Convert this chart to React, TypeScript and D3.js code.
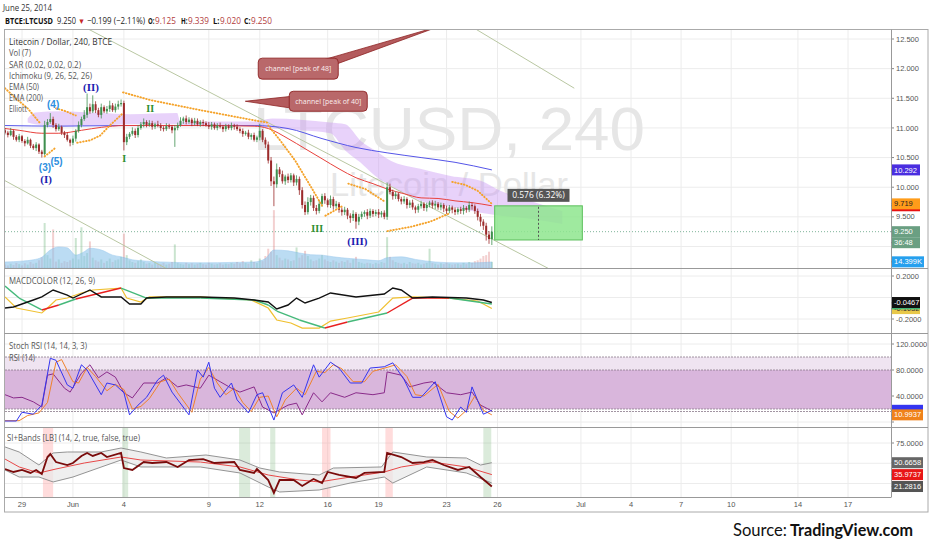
import React from 'react';
import * as d3 from 'd3';

// ---- data (4h bars from May 28 00:00) ----
const firstOpen = 10.96;
const closes = [
  10.92, 10.88, 10.95, 10.85, 10.8, 10.86, 10.78, 10.74, 10.8, 10.7,
  10.66, 10.72, 10.6, 10.56, 11.05, 11.1, 11.15, 11.05, 10.98, 11.02,
  10.92, 10.88, 10.8, 10.75, 10.82, 10.95, 11.05, 11.15, 11.22, 11.35,
  11.28, 11.4, 11.3, 11.22, 11.35, 11.28, 11.32, 11.38, 11.3, 11.36,
  11.4, 11.42, 10.76, 10.85, 10.9, 10.95, 10.88, 11.0, 11.06, 11.1,
  11.05, 11.08, 11.02, 11.06, 11.04, 11.0, 10.98, 11.03, 11.02, 10.96,
  11.0, 11.05, 11.12, 11.16, 11.1, 11.14, 11.08, 11.12, 11.06, 11.1,
  11.08, 11.05, 11.02, 11.06, 11.0, 11.04, 11.02, 10.98, 11.03, 11.0,
  11.04, 11.02, 10.98, 10.95, 10.9, 10.92, 10.85, 10.88, 10.8, 10.84,
  10.95, 10.8, 10.72, 10.45, 10.1, 10.05, 10.3, 10.22, 10.1, 10.18,
  10.12, 10.2, 10.08, 10.14, 9.95, 9.7, 9.58, 9.75, 9.82, 9.65,
  9.6, 9.72, 9.85, 9.78, 9.7, 9.8, 9.68, 9.72, 9.62, 9.58,
  9.62, 9.52, 9.48, 9.55, 9.42, 9.5, 9.55, 9.58, 9.52, 9.6,
  9.55, 9.58, 9.54, 9.57, 9.5, 10.0, 9.92, 9.85, 9.88, 9.8,
  9.76, 9.8, 9.7, 9.74, 9.66, 9.62, 9.68, 9.72, 9.65, 9.7,
  9.74, 9.69, 9.72, 9.66, 9.7, 9.64, 9.6, 9.66, 9.62, 9.58,
  9.63, 9.6, 9.65, 9.62, 9.7, 9.68, 9.6, 9.5, 9.42, 9.35,
  9.2, 9.125, 9.25,
];
// wick lengths above / below the body, in cents
const wickUp = [
  4, 3, 5, 2, 3, 4, 2, 3, 5, 2, 3, 4, 2, 3, 7, 5, 10, 4, 3, 5,
  2, 3, 4, 2, 5, 3, 6, 4, 8, 23, 6, 15, 5, 4, 6, 3, 5, 8, 4, 5,
  6, 6, 4, 5, 3, 6, 4, 5, 4, 6, 3, 5, 4, 3, 6, 4, 3, 5, 4, 3,
  5, 4, 6, 3, 5, 4, 3, 5, 4, 3, 4, 3, 5, 4, 3, 4, 5, 3, 4, 3,
  5, 3, 4, 3, 4, 3, 5, 3, 4, 3, 12, 3, 4, 5, 6, 8, 10, 4, 6, 3,
  5, 4, 3, 6, 4, 5, 6, 8, 5, 4, 5, 6, 4, 5, 3, 6, 4, 5, 3, 4,
  5, 3, 4, 6, 3, 5, 4, 3, 5, 4, 3, 4, 5, 3, 4, 8, 6, 4, 5, 3,
  4, 5, 3, 4, 5, 3, 4, 5, 3, 4, 3, 4, 5, 3, 4, 3, 5, 4, 3, 4,
  3, 4, 5, 3, 6, 4, 3, 4, 5, 4, 5, 6, 9,
];
const wickDn = [
  3, 4, 2, 5, 3, 4, 3, 5, 2, 4, 3, 5, 4, 6, 3, 4, 3, 5, 4, 3,
  4, 5, 3, 6, 4, 5, 3, 4, 3, 5, 4, 3, 5, 4, 6, 3, 4, 5, 3, 4,
  5, 4, 14, 5, 4, 3, 5, 4, 3, 5, 4, 3, 5, 4, 3, 5, 4, 3, 4, 5,
  28, 4, 3, 5, 4, 3, 5, 4, 3, 4, 5, 3, 4, 5, 3, 4, 3, 5, 4, 3,
  4, 5, 3, 4, 5, 3, 4, 5, 3, 4, 5, 4, 6, 5, 8, 37, 6, 5, 4, 6,
  5, 4, 6, 5, 8, 6, 5, 4, 6, 5, 6, 4, 5, 6, 4, 5, 6, 4, 5, 6,
  5, 6, 8, 5, 12, 6, 4, 5, 6, 4, 5, 4, 6, 5, 4, 5, 4, 6, 5, 4,
  5, 4, 6, 5, 4, 6, 5, 4, 5, 6, 4, 5, 6, 4, 5, 6, 5, 4, 6, 5,
  4, 5, 6, 5, 4, 6, 5, 6, 8, 7, 10, 8, 10,
];
// volume in thousands
const volumes = [
  8, 6, 10, 7, 12, 9, 6, 11, 8, 14, 10, 12, 18, 25, 105, 30, 22, 90, 15, 20,
  12, 16, 14, 18, 22, 70, 20, 95, 28, 35, 62, 24, 18, 15, 20, 12, 16, 22, 14, 18,
  20, 26, 80, 30, 18, 14, 12, 16, 20, 14, 10, 12, 8, 14, 10, 9, 12, 8, 10, 14,
  55, 12, 10, 8, 12, 9, 11, 8, 10, 12, 9, 8, 12, 10, 8, 9, 11, 8, 10, 9,
  12, 10, 14, 11, 16, 12, 10, 18, 14, 12, 22, 16, 28, 45, 38, 135, 30, 24, 18, 22,
  20, 16, 18, 48, 24, 30, 40, 28, 20, 16, 18, 22, 30, 20, 16, 14, 18, 15, 12, 16,
  14, 18, 12, 20, 26, 14, 12, 10, 12, 11, 9, 12, 10, 14, 12, 72, 26, 18, 14, 12,
  10, 12, 9, 14, 11, 10, 12, 8, 10, 12, 45, 12, 10, 8, 11, 9, 12, 10, 8, 9,
  10, 8, 12, 9, 14, 12, 16, 18, 22, 28, 30, 38, 14.399,
];
const volMA = [
  [0, 14], [6, 16], [10, 19], [13, 25], [16, 42], [19, 49], [22, 47], [25, 30], [28, 38], [30, 46],
  [34, 42], [38, 30], [41, 26], [45, 19], [50, 16], [60, 13], [70, 12], [80, 13], [88, 14], [92, 22],
  [95, 42], [100, 40], [104, 35], [108, 31], [112, 30], [116, 26], [122, 22], [128, 19], [132, 17], [135, 24],
  [140, 26], [145, 20], [152, 14], [160, 12], [166, 12], [172, 14],
];
const ema50 = [
  [0, 10.99], [5, 10.96], [13, 10.91], [19, 10.91], [27, 10.96], [34, 11.01], [42, 11.04], [69, 11.04],
  [88, 11.03], [93, 10.99], [100, 10.82], [106, 10.65], [112, 10.48], [118, 10.31], [124, 10.16],
  [130, 10.06], [135, 9.97], [141, 9.89], [147, 9.82], [153, 9.81], [159, 9.77], [165, 9.74], [172, 9.687],
];
const ema200 = [
  [0, 11.04], [19, 11.03], [41, 11.04], [69, 11.04], [88, 11.04], [100, 10.99], [112, 10.82],
  [124, 10.67], [135, 10.58], [147, 10.5], [159, 10.42], [172, 10.292],
];
const cloudIdx = [8, 10.6, 19.4, 33.6, 44.2, 60.8, 61.9, 87.7, 94.4, 104.3, 114.9, 120.2, 125.5, 130.8, 136.1, 146.7, 157.4, 168, 175, 185.6, 197.3];
const cloudTop = [11.16, 11.26, 11.28, 11.25, 11.23, 11.25, 11.11, 11.11, 11.16, 11.14, 11.09, 11.06, 10.79, 10.62, 10.45, 10.31, 10.19, 10.11, 9.94, 9.77, 9.6];
const cloudBot = [11.09, 11.06, 11.03, 11.04, 11.06, 11.06, 11.04, 11.03, 10.99, 10.96, 10.91, 10.62, 10.42, 10.19, 10.03, 9.77, 9.67, 9.57, 9.52, 9.47, 9.38];
const sarSegments = [
  [[0, 11.67], [3.5, 11.51], [8, 11.33], [12.4, 11.08]],
  [[14, 10.52], [18, 10.67]],
  [[18, 11.33], [21, 11.29], [25, 11.21]],
  [[25.5, 10.75], [30, 10.79], [33.6, 10.87], [37, 11.04], [41.7, 11.25]],
  [[41.7, 11.6], [51.3, 11.47], [69, 11.3], [86.7, 11.14], [92.6, 11.09]],
  [[93, 11.04], [97.2, 10.79], [102.5, 10.45], [107.8, 10.03], [112, 9.69]],
  [[113.2, 9.52], [119.5, 9.69]],
  [[121.3, 10.06], [127.3, 9.97], [134.4, 9.75]],
  [[135.1, 9.26], [143.2, 9.33], [150.3, 9.42], [156.6, 9.55]],
  [[158, 10.09], [162.6, 10.04], [167, 9.94], [172, 9.719]],
];
const trendLines = [
  [[29.3, 12.67], [192.7, 8.62]],
  [[0, 10.11], [57.3, 8.62]],
  [[166.2, 12.67], [201.6, 11.67]],
];
const elliott = [
  { text: '(3)', i: 14.1, p: 10.33, kind: 'minor' },
  { text: '(5)', i: 18.2, p: 10.43, kind: 'minor' },
  { text: '(I)', i: 14.5, p: 10.14, kind: 'major' },
  { text: '(4)', i: 17, p: 11.4, kind: 'minor' },
  { text: '(II)', i: 30.4, p: 11.69, kind: 'major' },
  { text: 'II', i: 51.3, p: 11.33, kind: 'wave' },
  { text: 'I', i: 42.1, p: 10.48, kind: 'wave' },
  { text: 'III', i: 110.3, p: 9.3, kind: 'wave' },
  { text: '(III)', i: 124.5, p: 9.09, kind: 'major' },
];
const callouts = [
  { text: 'channel [peak of 48]', i: 103.6, p: 12.0, w: 80, h: 21, ti: 153.8, tp: 12.72, base: [[24, -8.5], [38, -4.5]] },
  { text: 'channel [peak of 40]', i: 114.2, p: 11.45, w: 78, h: 20, ti: 84.9, tp: 11.45, base: [[-36, -5], [-36, 7]] },
];
const measure = { i0: 173, i1: 204.5, lo: 9.11, hi: 9.686, label: '0.576 (6.32%)' };

// MACDCOLOR
const macdBlack = [
  [0, -0.098], [3, -0.088], [10, -0.023], [13, 0.005], [17, 0.07], [22, 0.023], [24, -0.005], [30, 0.07],
  [34, 0.005], [41, 0.005], [44, -0.06], [48, -0.06], [50, -0.005], [57, 0.005], [69, 0.005], [81, -0.005],
  [88, -0.023], [93, -0.042], [96, -0.107], [100, -0.07], [103, -0.005], [106, -0.051], [111, -0.005],
  [115, 0.042], [124, 0.005], [134, 0.033], [137, 0.088], [140, 0.07], [144, -0.005], [151, 0.005],
  [163, -0.005], [169, -0.023], [172, -0.0467],
];
const macdSignal = [
  [0, 0.107, 'g'], [5, -0.005, 'g'], [13, -0.116, 'g'], [19, -0.07, 'r'], [25, -0.014, 'g'], [41, 0.088, 'r'],
  [50, -0.005, 'g'], [69, -0.005, 'g'], [88, -0.023, 'g'], [93, -0.07, 'g'], [96, -0.126, 'g'], [104, -0.209, 'g'],
  [113, -0.284, 'g'], [121, -0.228, 'r'], [135, -0.144, 'g'], [144, -0.005, 'r'], [157, -0.005, 'r'], [172, -0.06, 'g'],
];
const macdYellow = [
  [0, 0.005], [4, -0.098], [13, -0.144], [15, -0.098], [18, -0.023], [22, -0.005], [27, 0.042], [31, 0.07],
  [41, 0.088], [43, -0.005], [48, -0.042], [51, 0.005], [69, 0.005], [87, -0.023], [93, -0.098], [96, -0.209],
  [101, -0.237], [105, -0.284], [111, -0.284], [115, -0.219], [121, -0.191], [132, -0.135], [137, -0.005],
  [144, 0.005], [157, -0.005], [167, -0.033], [172, -0.1032],
];

// Stoch RSI / RSI
const stochK = [
  [0, 1.5], [4, 1.5], [6, 15], [10, 12], [13, 26], [16, 98], [18, 95], [22, 57], [24, 52], [27, 88], [29, 80],
  [34, 42], [36, 60], [39, 57], [42, 45], [44, 11], [47, 26], [50, 38], [54, 65], [56, 72], [59, 46], [65, 11],
  [68, 80], [70, 69], [72, 92], [74, 52], [76, 38], [80, 60], [82, 34], [86, 14], [89, 42], [91, 45], [95, 3],
  [98, 45], [102, 57], [105, 38], [109, 88], [111, 69], [115, 92], [118, 83], [122, 60], [126, 60], [129, 83],
  [134, 85], [137, 91], [141, 65], [144, 38], [147, 38], [152, 62], [156, 8], [158, 3], [161, 23], [163, 15],
  [165, 54], [169, 12], [172, 18],
];
const stochD = [
  [0, 2], [5, 2], [8, 10], [12, 14], [15, 30], [18, 92], [20, 96], [24, 62], [26, 60], [29, 84], [32, 70],
  [36, 48], [39, 58], [42, 50], [45, 20], [48, 24], [51, 36], [55, 62], [58, 66], [61, 45], [66, 15], [69, 66],
  [72, 84], [75, 60], [78, 42], [81, 52], [84, 30], [87, 16], [90, 38], [93, 40], [96, 8], [99, 34], [103, 52],
  [106, 42], [110, 78], [113, 76], [116, 88], [119, 82], [123, 62], [127, 62], [130, 78], [135, 84], [138, 88],
  [142, 70], [145, 42], [148, 40], [153, 58], [157, 16], [160, 6], [163, 18], [166, 40], [169, 18], [172, 10.9937],
];
const rsi14 = [
  [0, 42], [3, 37], [6, 38], [10, 31], [13, 23], [15, 72], [17, 74], [21, 52], [23, 46], [27, 75], [30, 88],
  [33, 68], [36, 77], [39, 69], [42, 45], [45, 37], [49, 60], [54, 60], [57, 68], [61, 54], [64, 57], [69, 52],
  [72, 72], [76, 62], [80, 52], [83, 46], [88, 54], [91, 23], [95, 14], [100, 26], [103, 29], [105, 11],
  [109, 45], [112, 31], [115, 45], [120, 38], [124, 45], [130, 42], [134, 45], [135, 77], [140, 72], [143, 54],
  [148, 60], [151, 62], [156, 45], [161, 42], [165, 46], [168, 26], [172, 17],
];
const rsiBands = [100, 80, 20];

// SI+Bands
const siLine = [
  [0, 42.9], [3, 39.2], [6, 41.7], [9, 38], [11, 41.7], [13, 36.7], [15, 57.7], [16, 61.4], [18, 51.5],
  [22, 47.8], [24, 50.3], [27, 59], [29, 62.7], [31, 59], [34, 62.7], [36, 57.7], [41, 62.7], [42, 44.1],
  [45, 41.7], [49, 51.5], [52, 50.3], [57, 51.5], [61, 45.4], [65, 54], [70, 55.2], [74, 50.3], [81, 51.5],
  [83, 41.7], [88, 38], [89, 42.9], [93, 29.3], [95, 13.3], [97, 29.3], [102, 29.3], [105, 21.9], [109, 30.6],
  [112, 25.6], [114, 39.2], [118, 35.5], [124, 31.8], [127, 38], [134, 39.2], [135, 62.7], [140, 57.7],
  [144, 50.3], [148, 51.5], [151, 54], [155, 47.8], [160, 41.7], [164, 45.4], [168, 33], [172, 21.2816],
];
const siMA = [
  [0, 55.2], [5, 45.4], [12, 38], [18, 42.9], [28, 50.3], [41, 57.7], [48, 54], [69, 51.5], [83, 45.4],
  [93, 35.5], [104, 29.3], [111, 26.9], [122, 33], [134, 39.2], [140, 45.4], [151, 51.5], [163, 45.4], [172, 35.9737],
];
const siUpper = [
  [0, 70.1], [5, 63.9], [12, 47.8], [17, 62.7], [22, 63.9], [34, 63.9], [41, 68.8], [48, 63.9], [57, 56.5],
  [71, 60.2], [83, 54], [90, 44.1], [97, 39.2], [111, 35.5], [116, 44.1], [133, 45.4], [137, 63.9], [149, 57.7],
  [163, 56.5], [168, 47.8], [172, 50.6658],
];
const siLower = [
  [0, 41.7], [5, 33], [12, 33], [17, 26.9], [24, 33], [41, 54], [48, 45.4], [69, 45.4], [83, 38], [93, 20.7],
  [97, 14.5], [111, 17], [122, 25.6], [134, 33], [137, 25.6], [149, 45.4], [163, 38], [172, 25.6],
];
const siMarks = [
  [13.4, 17, 'dn'], [41.4, 43.5, 'up'], [82.7, 86.6, 'up'], [93.7, 95.5, 'up'],
  [112, 115, 'dn'], [134.4, 137, 'dn'], [169, 171.8, 'up'],
];

// axes
const priceTicks = [9, 9.5, 10, 10.5, 11, 11.5, 12, 12.5];
const macdTicks = [-0.2, 0, 0.2];
const rsiTicks = [0, 40, 80, 120];
const siTicks = [25, 50, 75];
const tickDates = ['2014-05-29', '2014-06-01', '2014-06-04', '2014-06-09', '2014-06-12', '2014-06-16', '2014-06-19',
  '2014-06-23', '2014-06-26', '2014-07-01', '2014-07-04', '2014-07-07', '2014-07-10', '2014-07-14', '2014-07-17'];
const tickLabels = ['29', 'Jun', '4', '9', '12', '16', '19', '23', '26', 'Jul', '4', '7', '10', '14', '17'];

// ---- layout ----
const L = 5, R = 891;
const P = { main: [29, 268], macd: [269, 333], rsi: [334, 427], si: [428, 497] };
const SANS = 'Liberation Sans, Arial, sans-serif';
const UI = 'Open Sans, sans-serif';

const parse = d3.timeParse('%Y-%m-%d');
const x = d3.scaleTime()
  .domain([parse('2014-05-29'), parse('2014-06-26'), parse('2014-07-17')])
  .range([22, 497.5, 848]);
const BAR0 = parse('2014-05-28').getTime();
const bx = (i) => x(new Date(BAR0 + i * 4 * 3600 * 1000));

const yP = d3.scaleLinear().domain([9, 12.5]).range([246.5, 39]);
const yV = d3.scaleLinear().domain([0, 140]).range([268, 208]);
const yM = d3.scaleLinear().domain([-0.2, 0.2]).range([319, 276]);
const yR = d3.scaleLinear().domain([0, 120]).range([422, 344]);
const yS = d3.scaleLinear().domain([25, 75]).range([483.5, 443]);

const lineOf = (ys, curve = d3.curveLinear) => d3.line().x((d) => bx(d[0])).y((d) => ys(d[1])).curve(curve);
const last = (a) => a[a.length - 1][1];
const lastClose = closes[closes.length - 1];
const lastSar = last(sarSegments[sarSegments.length - 1]);

const Tag = ({ y, text, bg, fg = '#fff', w = 28 }) => (
  <g>
    <line x1={R} x2={R + 3} y1={y} y2={y} stroke="#888" />
    <rect x={R + 1} y={y - 5.5} width={w} height={11} fill={bg} />
    {text ? <text x={R + 3} y={y + 2.6} fontSize={7.5} fill={fg} fontFamily={SANS}>{text}</text> : null}
  </g>
);

// axis ticks; labels that would sit under a value tag are left out
const Ticks = ({ ticks, ys, fmt, avoid = [] }) => (
  <g>
    {ticks.map((t) => (
      <g key={t}>
        <line x1={L} x2={R} y1={ys(t)} y2={ys(t)} stroke="#ececec" />
        <line x1={R} x2={R + 3} y1={ys(t)} y2={ys(t)} stroke="#888" />
        {avoid.some((a) => Math.abs(a - ys(t)) < 8) ? null : (
          <text x={R + 5} y={ys(t) + 2.6} fontSize={7.5} fill="#555" fontFamily={SANS}>{d3.format(fmt)(t).replace('−', '-')}</text>
        )}
      </g>
    ))}
  </g>
);

const UIText = ({ x: tx, y, w, children, fill = '#555', weight = 400, size = 8.5 }) => (
  <text x={tx} y={y} fontSize={size} fill={fill} fontWeight={weight} fontFamily={UI}
    textLength={w} lengthAdjust="spacingAndGlyphs">{children}</text>
);

export default function App() {
  const vGrid = tickDates.map((d) => x(parse(d)));
  const candles = closes.map((c, i) => {
    const o = i === 0 ? firstOpen : closes[i - 1];
    return { i, o, c, h: Math.max(o, c) + wickUp[i] / 100, l: Math.min(o, c) - wickDn[i] / 100 };
  });
  const cloudArea = d3.area().x((d) => bx(d[0])).y0((d) => yP(d[2])).y1((d) => yP(d[1])).curve(d3.curveMonotoneX);
  const cloudData = cloudIdx.map((t, k) => [t, cloudTop[k], cloudBot[k]]);
  const volArea = d3.area().x((d) => bx(d[0])).y0(yV(0)).y1((d) => yV(d[1])).curve(d3.curveMonotoneX);
  const siBand = d3.area().x((d) => bx(d[0])).y0((d) => yS(d[2])).y1((d) => yS(d[1]));
  // upper / lower band on the union of their sample points
  const bandIdx = Array.from(new Set([...siUpper.map((d) => d[0]), ...siLower.map((d) => d[0])])).sort((a, b) => a - b);
  const at = (arr, t) => {
    const k = d3.bisector((d) => d[0]).left(arr, t);
    if (k <= 0) return arr[0][1];
    if (k >= arr.length) return arr[arr.length - 1][1];
    const a = arr[k - 1], b = arr[k];
    return a[1] + ((t - a[0]) / (b[0] - a[0])) * (b[1] - a[1]);
  };
  const bandData = bandIdx.map((t) => [t, at(siUpper, t), at(siLower, t)]);

  const mx0 = bx(measure.i0), mx1 = bx(measure.i1), mmid = (mx0 + mx1) / 2;

  const mainTags = [yP(last(ema200)), yP(last(ema50)), yP(lastSar), yP(lastClose), yP(lastClose) + 11, yV(volumes[volumes.length - 1])];
  const macdTags = [yM(last(macdYellow)), yM(last(macdBlack))];
  const rsiTags = [yR(last(stochK)), yR(last(stochD))];
  const siTags = [yS(last(siUpper)), yS(last(siMA)), yS(last(siLine))];

  return (
    <svg width={932} height={550} style={{ position: 'absolute', left: 0, top: 0, background: '#fff' }}>
      <defs>
        {Object.entries(P).map(([k, [t, b]]) => (
          <clipPath id={`clip-${k}`} key={k}><rect x={L} y={t} width={R - L} height={b - t} /></clipPath>
        ))}
      </defs>
      <rect width={932} height={550} fill="#fff" />

      {/* header */}
      <UIText x={3} y={11} w={49} fill="#333" size={9}>June 25, 2014</UIText>
      <UIText x={5} y={23.5} w={48} fill="#111" weight={700} size={9}>BTCE:LTCUSD</UIText>
      <UIText x={57} y={23.5} w={19} fill="#222" size={9}>9.250</UIText>
      <UIText x={78} y={23.5} w={7} fill="#c62828" size={8}>▼</UIText>
      <UIText x={87} y={23.5} w={58} fill="#222" size={9}>−0.199 (−2.11%)</UIText>
      {[['O:', 148, '9.125'], ['H:', 181, '9.339'], ['L:', 213, '9.020'], ['C:', 244, '9.250']].map(([k, xx, v]) => (
        <g key={k}>
          <UIText x={xx} y={23.5} w={6.5} fill="#111" weight={700} size={9}>{k}</UIText>
          <UIText x={xx + 7} y={23.5} w={21} fill="#b23b3b" size={9}>{v}</UIText>
        </g>
      ))}

      {/* vertical grid */}
      {vGrid.map((gx, k) => <line key={k} x1={gx} x2={gx} y1={29} y2={497} stroke="#ececec" />)}

      {/* ===== main panel ===== */}
      <Ticks ticks={priceTicks} ys={yP} fmt=".3f" avoid={mainTags} />
      <g clipPath="url(#clip-main)">
        <text x={253} y={150} fontSize={62} fill="#e6e6e6" fontFamily={SANS} textLength={392} lengthAdjust="spacingAndGlyphs">LTCUSD, 240</text>
        <text x={330} y={196} fontSize={33} fill="#e6e6e6" fontFamily={SANS} textLength={238} lengthAdjust="spacingAndGlyphs">Litecoin / Dollar</text>
        <path d={cloudArea(cloudData)} fill="#c793f2" opacity={0.42} />
        {candles.map((d) => (
          <rect key={d.i} x={bx(d.i) - 1} width={2} y={yV(volumes[d.i])} height={yV(0) - yV(volumes[d.i])}
            fill={d.c >= d.o ? 'rgba(80,165,95,0.3)' : 'rgba(215,100,100,0.3)'} />
        ))}
        <path d={volArea(volMA)} fill="#8ec5ec" opacity={0.6} stroke="#6aaee6" strokeWidth={0.6} />
        {trendLines.map((t, k) => <path key={k} d={lineOf(yP)(t)} stroke="#b9c7a2" strokeWidth={1} fill="none" />)}
        <line x1={L} x2={R} y1={yP(lastClose)} y2={yP(lastClose)} stroke="#7fb59a" strokeDasharray="1 2" />
        <path d={lineOf(yP, d3.curveMonotoneX)(ema200)} stroke="#5555e8" strokeWidth={1} fill="none" />
        <path d={lineOf(yP, d3.curveMonotoneX)(ema50)} stroke="#e8413c" strokeWidth={1} fill="none" />
        {candles.map((d) => {
          const col = d.c >= d.o ? '#3f8f4f' : '#9c2b2b';
          const top = yP(Math.max(d.o, d.c)), bot = yP(Math.min(d.o, d.c));
          return (
            <g key={d.i}>
              <line x1={bx(d.i)} x2={bx(d.i)} y1={yP(d.h)} y2={yP(d.l)} stroke={col} strokeWidth={0.8} />
              <rect x={bx(d.i) - 1} y={top} width={2} height={Math.max(1, bot - top)} fill={col} />
            </g>
          );
        })}
        {sarSegments.map((s, k) => (
          <path key={k} d={lineOf(yP)(s)} stroke="#f5a32a" strokeWidth={1.9} strokeDasharray="0.6 2.4"
            strokeLinecap="round" fill="none" />
        ))}
        {/* price range measure */}
        <rect x={mx0} y={yP(measure.hi)} width={mx1 - mx0} height={yP(measure.lo) - yP(measure.hi)}
          fill="#8ee68e" fillOpacity={0.85} stroke="#5cbf5c" />
        <line x1={mmid} x2={mmid} y1={yP(measure.hi) + 1} y2={yP(measure.lo)} stroke="#555" strokeDasharray="2 2" />
        <rect x={mmid - 31} y={yP(measure.hi) - 17} width={62} height={13} fill="#555" />
        <text x={mmid} y={yP(measure.hi) - 7.5} fontSize={8.5} fill="#fff" textAnchor="middle" fontFamily={UI}>{measure.label}</text>
        {/* Elliott labels */}
        {elliott.map((e) => (
          <text key={e.text + e.i} x={bx(e.i)} y={yP(e.p)} dy="0.35em" textAnchor="middle"
            fontSize={e.kind === 'major' ? 11 : 10} fontWeight={700}
            fontFamily={e.kind === 'minor' ? SANS : 'Liberation Serif, serif'}
            fill={e.kind === 'minor' ? '#2e8fe0' : e.kind === 'major' ? '#1b1bb0' : '#2f8f2f'}>{e.text}</text>
        ))}
        {/* callouts */}
        {callouts.map((c) => {
          const cx = bx(c.i), cy = yP(c.p);
          const pts = [[cx + c.base[0][0], cy + c.base[0][1]], [bx(c.ti), yP(c.tp)], [cx + c.base[1][0], cy + c.base[1][1]]];
          return (
            <g key={c.text}>
              <polygon points={pts.map((p) => p.join(',')).join(' ')} fill="#b45b5d" stroke="#8e2424" strokeWidth={0.8} />
              <rect x={cx - c.w / 2} y={cy - c.h / 2} width={c.w} height={c.h} rx={4} fill="#b9686a" stroke="#8e2424" strokeWidth={0.9} />
              <text x={cx} y={cy + 2.5} fontSize={7} fill="#fbeeee" textAnchor="middle" fontFamily={UI}>{c.text}</text>
            </g>
          );
        })}
      </g>
      <UIText x={9} y={45} w={103} fill="#333">Litecoin / Dollar, 240, BTCE</UIText>
      {[['Vol (7)', 22], ['SAR (0.02, 0.02, 0.2)', 72], ['Ichimoku (9, 26, 52, 26)', 83], ['EMA (50)', 30], ['EMA (200)', 34], ['Elliott', 18]]
        .map(([t, w], k) => <UIText key={t} x={9} y={56.3 + k * 11.2} w={w}>{t}</UIText>)}

      {/* ===== MACD ===== */}
      <Ticks ticks={macdTicks} ys={yM} fmt=".4f" avoid={macdTags} />
      <g clipPath="url(#clip-macd)">
        <path d={lineOf(yM)(macdYellow)} stroke="#f0c030" strokeWidth={1.2} fill="none" />
        {macdSignal.slice(1).map((d, k) => (
          <path key={k} d={lineOf(yM)([macdSignal[k], d])} stroke={d[2] === 'r' ? '#e82020' : '#45b97a'} strokeWidth={1.4} fill="none" />
        ))}
        <path d={lineOf(yM)(macdBlack)} stroke="#111" strokeWidth={1.4} fill="none" />
      </g>
      <UIText x={9} y={284} w={86}>MACDCOLOR (12, 26, 9)</UIText>

      {/* ===== Stoch RSI ===== */}
      <Ticks ticks={rsiTicks} ys={yR} fmt=".4f" avoid={rsiTags} />
      <g clipPath="url(#clip-rsi)">
        <rect x={L} width={R - L} y={yR(rsiBands[0])} height={yR(rsiBands[1]) - yR(rsiBands[0])} fill="#efe4f1" />
        <rect x={L} width={R - L} y={yR(rsiBands[1])} height={yR(rsiBands[2]) - yR(rsiBands[1])} fill="#d9b6dc" />
        {rsiBands.map((b) => <line key={b} x1={L} x2={R} y1={yR(b)} y2={yR(b)} stroke="#8a7a8a" strokeDasharray="2 1" strokeWidth={0.8} />)}
        <line x1={L} x2={R} y1={yR(rsiBands[2]) + 2.5} y2={yR(rsiBands[2]) + 2.5} stroke="#8a7a8a" strokeDasharray="2 1" strokeWidth={0.8} />
        <path d={lineOf(yR)(rsi14)} stroke="#8a2b8a" strokeWidth={1} fill="none" />
        <path d={lineOf(yR)(stochD)} stroke="#f0822a" strokeWidth={1} fill="none" />
        <path d={lineOf(yR)(stochK)} stroke="#3535f0" strokeWidth={1} fill="none" />
      </g>
      <UIText x={9} y={349} w={78}>Stoch RSI (14, 14, 3, 3)</UIText>
      <UIText x={9} y={361} w={26}>RSI (14)</UIText>

      {/* ===== SI+Bands ===== */}
      <Ticks ticks={siTicks} ys={yS} fmt=".4f" avoid={siTags} />
      <g clipPath="url(#clip-si)">
        {siMarks.map(([a, b, t], k) => (
          <rect key={k} x={bx(a)} width={bx(b) - bx(a)} y={P.si[0]} height={P.si[1] - P.si[0]}
            fill={t === 'up' ? 'rgba(110,175,110,0.25)' : 'rgba(255,140,140,0.3)'} />
        ))}
        <path d={siBand(bandData)} fill="#e8e8e8" opacity={0.7} />
        <path d={lineOf(yS)(siUpper)} stroke="#888" strokeWidth={0.9} fill="none" />
        <path d={lineOf(yS)(siLower)} stroke="#888" strokeWidth={0.9} fill="none" />
        <path d={lineOf(yS)(siMA)} stroke="#e84848" strokeWidth={1} fill="none" />
        <path d={lineOf(yS)(siLine)} stroke="#7a0c0c" strokeWidth={1.8} fill="none" />
      </g>
      <UIText x={7} y={441} w={133}>SI+Bands [LB] (14, 2, true, false, true)</UIText>

      {/* frames */}
      <rect x={4.5} y={29.5} width={923.5} height={482.5} fill="none" stroke="#aaa" />
      {[P.main[1], P.macd[1], P.rsi[1]].map((yy) => (
        <line key={yy} x1={4.5} x2={928} y1={yy + 0.5} y2={yy + 0.5} stroke="#999" />
      ))}
      <line x1={4.5} x2={R} y1={497.5} y2={497.5} stroke="#999" />
      <line x1={R + 0.5} x2={R + 0.5} y1={29.5} y2={497.5} stroke="#999" />

      {/* time axis */}
      {vGrid.map((gx, k) => (
        <text key={k} x={gx} y={507} fontSize={7.5} fill="#555" textAnchor="middle" fontFamily={SANS}>{tickLabels[k]}</text>
      ))}

      {/* value tags */}
      <Tag y={yP(last(ema200))} text={d3.format('.3f')(last(ema200))} bg="#4a2ee0" />
      <Tag y={yP(last(ema50))} text="" bg="#e81010" />
      <Tag y={yP(lastSar)} text={d3.format('.3f')(lastSar)} bg="#ff9c1a" fg="#222" />
      <Tag y={yP(lastClose)} text={d3.format('.3f')(lastClose)} bg="#6a9f82" />
      <Tag y={yP(lastClose) + 11} text="36:48" bg="#6a9f82" />
      <Tag y={yV(volumes[volumes.length - 1])} text={`${d3.format('.3f')(volumes[volumes.length - 1])}K`} bg="#26a0ee" w={32} />
      <Tag y={yM(last(macdYellow))} text={d3.format('.4f')(last(macdYellow)).replace('−', '-')} bg="#e8c84a" fg="#333" />
      <Tag y={yM(last(macdSignal))} text="" bg="#45b97a" />
      <Tag y={yM(last(macdBlack))} text={d3.format('.4f')(last(macdBlack)).replace('−', '-')} bg="#111" />
      <Tag y={yR(last(stochK))} text="" bg="#3535f0" w={31} />
      <Tag y={yR(last(stochD))} text={d3.format('.4f')(last(stochD))} bg="#f0821a" w={31} />
      <Tag y={yS(last(siUpper))} text={d3.format('.4f')(last(siUpper))} bg="#666" w={31} />
      <Tag y={yS(last(siMA))} text={d3.format('.4f')(last(siMA))} bg="#e81616" w={31} />
      <Tag y={yS(last(siLine))} text={d3.format('.4f')(last(siLine))} bg="#555" w={31} />

      {/* source */}
      <text x={733} y={536} fontSize={17} fill="#111" fontFamily="Lato, Open Sans, sans-serif" textLength={54} lengthAdjust="spacingAndGlyphs">Source:</text>
      <text x={790} y={536} fontSize={17} fill="#111" fontWeight={700} fontFamily="Lato, Open Sans, sans-serif" textLength={123} lengthAdjust="spacingAndGlyphs">TradingView.com</text>
    </svg>
  );
}
